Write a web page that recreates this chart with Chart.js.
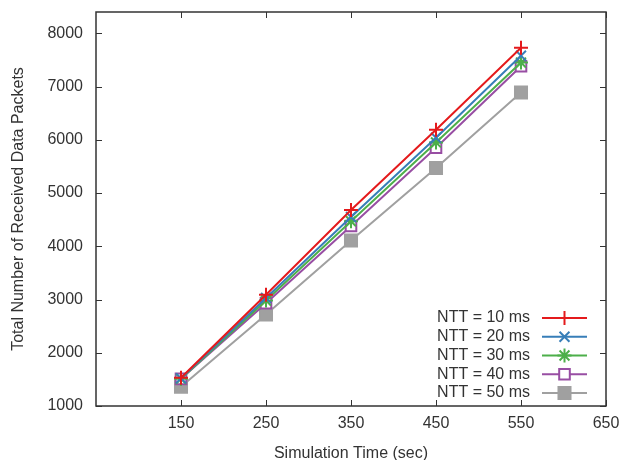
<!DOCTYPE html>
<html>
<head>
<meta charset="utf-8">
<script src="https://cdn.jsdelivr.net/npm/chart.js@4.4.1/dist/chart.umd.min.js"></script>
<style>
html, body { margin: 0; padding: 0; background: #fff; }
canvas { display: block; }
</style>
</head>
<body>
<canvas id="myChart" width="621" height="460"></canvas>
<script>
let simTimes = [150, 250, 350, 450, 550];
let ntt10 = [1530, 3090, 4680, 6190, 7730];
let ntt20 = [1520, 3030, 4550, 6040, 7580];
let ntt30 = [1510, 2980, 4470, 5950, 7450];
let ntt40 = [1510, 2930, 4380, 5850, 7380];
let ntt50 = [1360, 2720, 4110, 5470, 6890];
let seriesLabels = ['NTT = 10 ms', 'NTT = 20 ms', 'NTT = 30 ms', 'NTT = 40 ms', 'NTT = 50 ms'];
let xTicks = [150, 250, 350, 450, 550, 650];
let yTicks = [1000, 2000, 3000, 4000, 5000, 6000, 7000, 8000];

let font = "'Liberation Sans', Arial, sans-serif";
let textColor = '#333333';

function makeSet(label, values, color, style, radius, fill) {
    return {
        label: label,
        data: simTimes.map((t, i) => ({ x: t, y: values[i] })),
        borderColor: color,
        backgroundColor: color,
        borderWidth: 2,
        pointStyle: style,
        pointRadius: radius,
        pointBorderWidth: 2,
        pointBackgroundColor: fill,
        pointBorderColor: color,
        tension: 0
    };
}

// gnuplot style frame with inward ticks + legend in the lower right corner
let framePlugin = {
    id: 'frame',
    afterDatasetsDraw(chart) {
        let c = chart.ctx;
        let a = chart.chartArea;
        let xs = chart.scales.x, ys = chart.scales.y;
        c.save();
        c.strokeStyle = '#333';
        c.lineWidth = 1.5;
        c.strokeRect(a.left, a.top, a.right - a.left, a.bottom - a.top);
        c.lineWidth = 1;
        c.beginPath();
        xTicks.forEach(v => {
            let px = Math.round(xs.getPixelForValue(v)) + 0.5;
            c.moveTo(px, a.bottom); c.lineTo(px, a.bottom - 6);
            c.moveTo(px, a.top); c.lineTo(px, a.top + 6);
        });
        yTicks.forEach(v => {
            let py = Math.round(ys.getPixelForValue(v)) + 0.5;
            c.moveTo(a.left, py); c.lineTo(a.left + 6, py);
            c.moveTo(a.right, py); c.lineTo(a.right - 6, py);
        });
        c.stroke();

        // legend
        c.font = '16px ' + font;
        c.textAlign = 'right';
        c.textBaseline = 'middle';
        chart.data.datasets.forEach((ds, i) => {
            let y = a.bottom - 88 + i * 18.75;
            let textRight = a.right - 76;
            let lineStart = a.right - 64;
            let lineEnd = a.right - 19;
            c.fillStyle = textColor;
            c.fillText(ds.label, textRight, y);
            c.strokeStyle = ds.borderColor;
            c.lineWidth = 2;
            c.beginPath();
            c.moveTo(lineStart, y); c.lineTo(lineEnd, y);
            c.stroke();
            c.fillStyle = ds.pointBackgroundColor;
            Chart.helpers.drawPoint(c, {
                pointStyle: ds.pointStyle,
                radius: ds.pointRadius,
                rotation: 0,
                borderWidth: 2
            }, (lineStart + lineEnd) / 2, y);
        });
        c.restore();
    }
};

let ctx = document.getElementById('myChart').getContext('2d');
let myChart = new Chart(ctx, {
    type: 'line',
    data: {
        datasets: [
            makeSet(seriesLabels[0], ntt10, '#e41a1c', 'cross', 7, '#e41a1c'),
            makeSet(seriesLabels[1], ntt20, '#377eb8', 'crossRot', 7, '#377eb8'),
            makeSet(seriesLabels[2], ntt30, '#4daf4a', 'star', 7, '#4daf4a'),
            makeSet(seriesLabels[3], ntt40, '#984ea3', 'rect', 7.5, '#ffffff'),
            makeSet(seriesLabels[4], ntt50, '#a0a0a0', 'rect', 8.5, '#a0a0a0')
        ]
    },
    options: {
        responsive: false,
        animation: false,
        layout: { padding: { top: 12, right: 15, left: 0, bottom: 0 } },
        plugins: {
            legend: { display: false },
            tooltip: { enabled: false }
        },
        scales: {
            x: {
                type: 'linear',
                min: 50,
                max: 650,
                afterBuildTicks: axis => { axis.ticks = xTicks.map(v => ({ value: v })); },
                afterFit: axis => {
                    axis.height = 54;
                    axis.paddingLeft = 0;
                    axis.paddingRight = 0;
                },
                grid: { display: false, drawTicks: false },
                border: { display: false },
                ticks: {
                    padding: 8,
                    color: textColor,
                    font: { family: font, size: 16 },
                    maxRotation: 0,
                    callback: v => String(v)
                },
                title: {
                    display: true,
                    text: 'Simulation Time (sec)',
                    color: textColor,
                    font: { family: font, size: 16 },
                    padding: { top: 0, bottom: -3 }
                }
            },
            y: {
                min: 1000,
                max: 8400,
                afterBuildTicks: axis => { axis.ticks = yTicks.map(v => ({ value: v })); },
                afterFit: axis => {
                    axis.width = 96;
                    axis.paddingTop = 0;
                    axis.paddingBottom = 0;
                },
                grid: { display: false, drawTicks: false },
                border: { display: false },
                ticks: {
                    padding: 13,
                    color: textColor,
                    font: { family: font, size: 16 },
                    callback: v => String(v)
                },
                title: {
                    display: true,
                    text: 'Total Number of Received Data Packets',
                    color: textColor,
                    font: { family: font, size: 16 },
                    padding: { top: 9, bottom: 0 }
                }
            }
        }
    },
    plugins: [framePlugin]
});
</script>
</body>
</html>
